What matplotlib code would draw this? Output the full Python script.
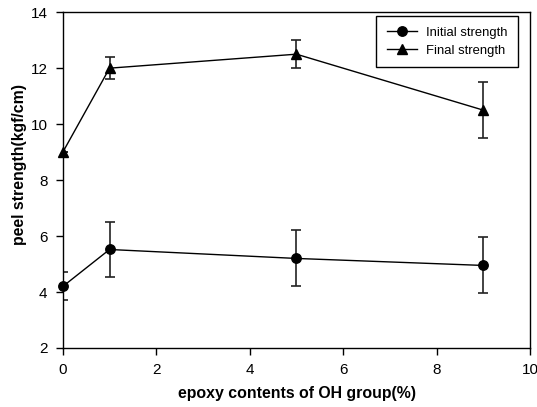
import matplotlib
matplotlib.use('Agg')
import matplotlib.pyplot as plt

plt.rcParams['font.family'] = ['Liberation Sans', 'DejaVu Sans']

oh_content = [0, 1, 5, 9]
initial_strength = [4.2, 5.52, 5.2, 4.95]
initial_err = [0.5, 1.0, 1.0, 1.0]
final_strength = [9.0, 12.0, 12.5, 10.5]
final_err = [0.0, 0.4, 0.5, 1.0]

fig = plt.figure(figsize=(5.37, 4.07), dpi=100)
ax = fig.add_axes([0.117, 0.145, 0.870, 0.825])

# error bars first, then the lines with markers for the legend
ax.errorbar(oh_content, initial_strength, yerr=initial_err, fmt='none', ecolor='#222222',
            capsize=3.8, elinewidth=1.2, capthick=1.2)
ax.errorbar(oh_content, final_strength, yerr=final_err, fmt='none', ecolor='#222222',
            capsize=3.8, elinewidth=1.2, capthick=1.2)
ax.plot(oh_content, initial_strength, color='black', lw=1.0, marker='o', ms=6.8,
        label='Initial strength', clip_on=False, zorder=3)
ax.plot(oh_content, final_strength, color='black', lw=1.0, marker='^', ms=6.8,
        label='Final strength', clip_on=False, zorder=3)

ax.set_xlim(0, 10)
ax.set_ylim(2, 14)
ax.set_xticks([0, 2, 4, 6, 8, 10])
ax.set_yticks([2, 4, 6, 8, 10, 12, 14])
ax.tick_params(direction='out', length=5, width=1, labelsize=11, pad=6)
for s in ax.spines.values():
    s.set_linewidth(1.0)

ax.set_xlabel('epoxy contents of OH group(%)', fontsize=11.4, fontweight='bold')
ax.set_ylabel('peel strength(kgf/cm)', fontsize=11.4, fontweight='bold')
ax.xaxis.set_label_coords(0.501, -0.113)
ax.yaxis.set_label_coords(-0.077, 0.545)

leg = ax.legend(loc='upper right', fontsize=9.4, fancybox=False, edgecolor='black',
                framealpha=1, handlelength=2.3, handletextpad=0.7, borderpad=0.8,
                labelspacing=0.45, borderaxespad=0, bbox_to_anchor=(0.974, 0.988))
leg.get_frame().set_linewidth(1.0)

fig.savefig('out.png', dpi=100)
